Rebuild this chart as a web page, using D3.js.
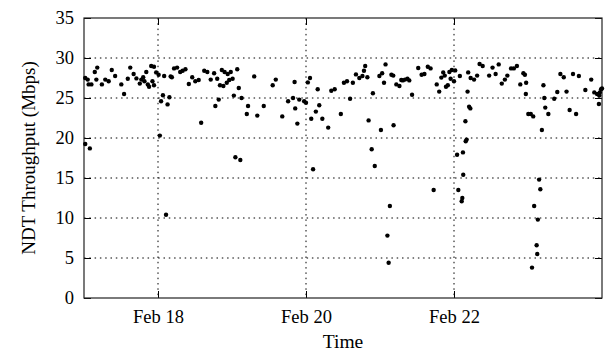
<!DOCTYPE html>
<html><head><meta charset="utf-8">
<script src="https://cdn.jsdelivr.net/npm/d3@7"></script>
<style>body{margin:0;background:#fff}svg{display:block}text{font-family:"Liberation Serif","Times New Roman",serif;fill:#000}</style>
</head><body><svg id="c" width="605" height="354"></svg>
<script>
// hours since Feb 17 00:00
const hours = [0.4,0.4,1.2,1.5,1.9,2.4,3.5,4.0,4.3,5.8,6.9,8.0,9.0,10.1,12.1,13.0,14.2,15.0,16.1,17.0,18.1,18.6,19.2,19.6,20.2,20.7,21.1,21.8,22.2,22.7,22.7,23.4,24.2,24.6,25.0,25.6,26.0,26.6,27.1,27.7,28.1,28.5,29.2,30.2,31.2,32.0,32.9,34.0,35.1,36.1,37.2,38.0,39.0,40.0,41.1,42.2,42.6,43.2,43.7,44.1,44.7,45.2,45.6,46.3,46.6,47.1,47.6,48.2,48.6,49.1,49.7,50.2,50.7,51.1,52.8,53.2,55.2,56.2,58.3,61.2,62.2,64.3,66.2,67.8,68.3,68.5,69.2,69.8,71.4,72.0,72.6,73.3,73.7,74.3,75.2,75.8,76.3,77.3,79.2,80.2,81.3,83.3,84.3,85.3,86.3,87.2,88.2,89.3,90.3,90.8,91.2,91.9,92.3,93.3,93.7,94.3,95.8,96.3,96.7,97.3,97.8,98.4,98.8,99.2,99.7,100.3,100.4,101.3,102.3,102.9,103.4,104.1,104.9,105.5,106.4,108.4,109.5,110.4,111.5,112.4,113.4,114.4,115.2,115.9,116.5,117.0,117.4,118.0,118.5,118.9,119.3,120.0,120.4,121.0,121.4,121.9,122.5,122.7,122.9,123.0,123.7,123.8,124.1,124.4,124.6,124.9,125.3,125.4,126.5,127.5,128.3,129.3,131.4,132.5,133.5,134.5,135.5,136.5,137.3,138.5,139.4,140.4,141.5,142.5,143.0,143.4,143.3,144.1,144.9,145.3,145.7,146.0,146.8,147.0,147.2,147.6,148.0,148.5,149.0,149.3,149.6,150.6,152.5,153.5,154.5,155.6,156.5,157.5,158.6,159.6,160.5,162.6,164.5,165.5,166.4,167.0,167.1,167.3,167.7,168.0];
const throughput = [27.5,19.25,27.3,26.7,18.7,26.7,28.25,27.3,28.8,26.7,27.3,27.1,28.5,27.75,26.7,25.5,27.4,28.8,28.0,27.45,26.8,27.3,27.6,27.1,28.25,26.7,26.4,29.0,27.1,28.9,26.6,28.2,27.9,20.3,24.6,25.35,27.75,10.4,24.2,25.1,27.7,27.6,28.7,28.8,28.25,28.4,28.6,26.75,27.6,27.1,27.25,21.9,28.4,28.25,27.3,28.1,24.0,27.4,24.8,26.6,28.5,26.5,28.25,26.9,28.0,27.25,28.25,27.4,25.3,17.6,28.6,26.25,17.25,25.0,23.0,24.0,27.7,22.8,24.0,26.6,27.3,22.7,24.6,25.0,27.0,23.7,21.8,24.8,24.6,24.4,26.95,27.5,22.4,16.1,23.3,26.1,24.1,22.4,21.3,25.9,26.1,23.0,26.9,27.1,24.9,26.9,27.95,27.5,27.75,28.4,29.0,27.6,22.2,18.6,25.6,16.5,27.75,21.0,28.1,26.9,29.2,7.8,4.4,11.5,27.9,27.8,21.6,26.7,26.5,27.25,27.2,27.3,27.4,27.2,25.4,28.75,27.9,28.0,28.9,28.7,13.5,26.7,25.8,27.55,28.2,27.8,26.4,26.6,28.25,27.4,28.5,27.1,28.45,17.9,13.5,27.75,12.1,12.5,18.2,15.4,22.1,19.6,19.8,25.8,28.2,23.9,23.7,27.5,27.3,27.8,29.25,29.0,27.8,28.8,28.0,29.2,26.8,27.3,27.8,28.7,28.7,29.0,26.7,28.1,27.9,26.9,25.5,23.0,23.0,3.8,22.7,11.5,6.6,5.5,9.8,14.8,13.6,21.0,26.6,25.0,23.8,23.0,24.9,25.75,28.0,27.6,25.8,23.5,28.0,23.0,27.75,26.0,27.3,25.7,25.5,24.25,25.3,25.7,26.1,26.2];
const yTicks = [0,5,10,15,20,25,30,35];
const xTickLabels = ["Feb 18","Feb 20","Feb 22"];
const xTickDates = [new Date(2010,1,18), new Date(2010,1,20), new Date(2010,1,22)];
const start = new Date(2010,1,17), end = new Date(2010,1,24);

const m = {l:84, r:602, t:18, b:298};
const svg = d3.select("#c");
const x = d3.scaleTime().domain([start,end]).range([m.l,m.r]);
const y = d3.scaleLinear().domain([0,35]).range([m.b,m.t]);
const data = hours.map((h,i)=>({t:new Date(start.getTime()+h*3600e3), v:throughput[i]}));

// grid
const g = svg.append("g");
g.selectAll("line.hy").data(yTicks.filter(d=>d>0&&d<35)).join("line")
  .attr("x1",m.l).attr("x2",m.r).attr("y1",d=>y(d)).attr("y2",d=>y(d))
  .attr("stroke","#000").attr("stroke-width",1).attr("stroke-dasharray","1.5,3.8");
g.selectAll("line.vx").data(xTickDates).join("line")
  .attr("x1",d=>x(d)).attr("x2",d=>x(d)).attr("y1",m.t).attr("y2",m.b)
  .attr("stroke","#000").attr("stroke-width",1).attr("stroke-dasharray","1.5,3.8");

// axes
const fmt = (d)=>xTickLabels[xTickDates.findIndex(e=>+e===+d)];
const ax = svg.append("g").attr("transform",`translate(0,${m.b})`)
  .call(d3.axisBottom(x).tickValues(xTickDates).tickFormat(fmt).tickSizeInner(-7).tickSizeOuter(0).tickPadding(12));
const axT = svg.append("g").attr("transform",`translate(0,${m.t})`)
  .call(d3.axisTop(x).tickValues(xTickDates).tickFormat("").tickSizeInner(-7).tickSizeOuter(0));
const ay = svg.append("g").attr("transform",`translate(${m.l},0)`)
  .call(d3.axisLeft(y).tickValues(yTicks).tickSizeInner(-7).tickSizeOuter(0).tickPadding(10));
const ayR = svg.append("g").attr("transform",`translate(${m.r},0)`)
  .call(d3.axisRight(y).tickValues(yTicks).tickFormat("").tickSizeInner(-7).tickSizeOuter(0));
[ax,axT,ay,ayR].forEach(a=>{
  a.select(".domain").remove();
  a.selectAll("line").attr("stroke","#000");
  a.selectAll("text").attr("font-size",18.5).attr("font-family","Liberation Serif");
});
svg.append("rect").attr("x",m.l).attr("y",m.t).attr("width",m.r-m.l).attr("height",m.b-m.t)
  .attr("fill","none").attr("stroke","#222").attr("stroke-width",1.2);

// points
svg.append("g").selectAll("circle").data(data).join("circle")
  .attr("cx",d=>x(d.t)).attr("cy",d=>y(d.v)).attr("r",2.2).attr("fill","#000");

// titles
svg.append("text").attr("x",(m.l+m.r)/2).attr("y",348).attr("text-anchor","middle")
  .attr("font-size",19.5).text("Time");
svg.append("text").attr("transform",`translate(35,${(m.t+m.b)/2}) rotate(-90)`).attr("text-anchor","middle")
  .attr("font-size",19).text("NDT Throughput (Mbps)");
</script></body></html>
